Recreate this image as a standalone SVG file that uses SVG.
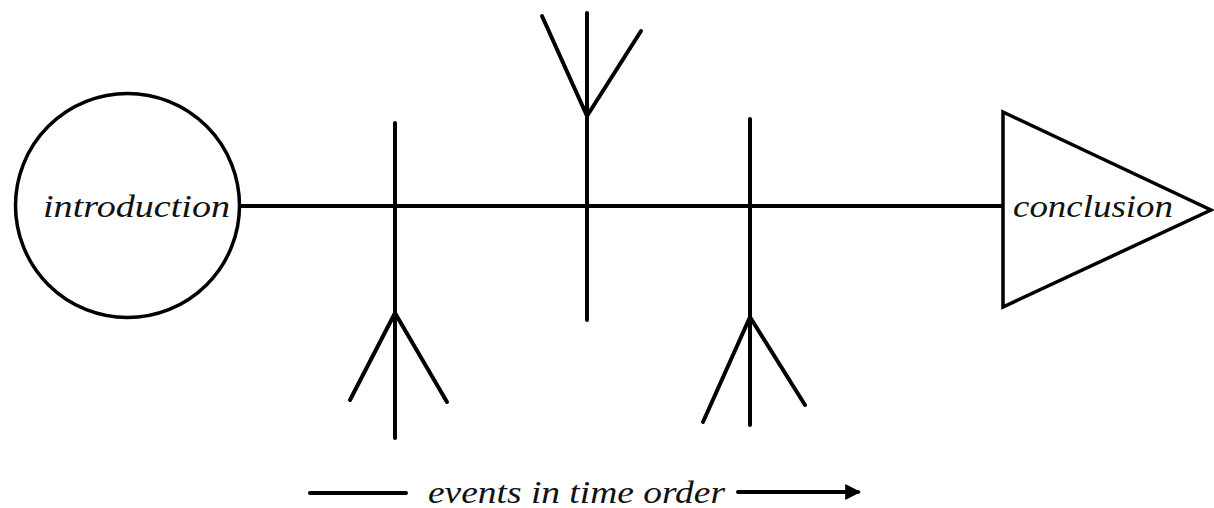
<svg xmlns="http://www.w3.org/2000/svg" width="1214" height="508" viewBox="0 0 1214 508">
  <style>
    .ln { stroke: #000; stroke-width: 4; stroke-linecap: round; stroke-linejoin: round; fill: none; }
    .shape { stroke: #000; stroke-width: 3.5; fill: #fff; stroke-linejoin: miter; }
    .lbl { font-family: "Liberation Serif", "DejaVu Serif", serif; font-style: italic; font-size: 31px; fill: #111; }
  </style>
  <defs>
    <marker id="arrow" viewBox="0 0 10 10" refX="8" refY="5" markerWidth="4" markerHeight="4" orient="auto" markerUnits="strokeWidth">
      <path d="M0,0 L10,5 L0,10 z" fill="#000"/>
    </marker>
  </defs>
  <rect width="1214" height="508" fill="#fff"/>
  <g id="connectors">
    <line class="ln" x1="240" y1="206" x2="1003" y2="206"/>
    <!-- bone 1 -->
    <line class="ln" x1="395" y1="123" x2="395" y2="438"/>
    <line class="ln" x1="395" y1="313" x2="350" y2="400"/>
    <line class="ln" x1="395" y1="313" x2="447" y2="402"/>
    <!-- bone 2 -->
    <line class="ln" x1="587" y1="13" x2="587" y2="320"/>
    <line class="ln" x1="587" y1="116" x2="542" y2="16"/>
    <line class="ln" x1="587" y1="116" x2="641" y2="31"/>
    <!-- bone 3 -->
    <line class="ln" x1="750" y1="119" x2="750" y2="425"/>
    <line class="ln" x1="750" y1="317" x2="703" y2="422"/>
    <line class="ln" x1="750" y1="317" x2="805" y2="405"/>
    <!-- time arrow -->
    <line class="ln" x1="310" y1="493" x2="406" y2="493"/>
    <line class="ln" x1="738" y1="492" x2="858" y2="492" marker-end="url(#arrow)"/>
  </g>
  <g id="introduction">
    <circle class="shape" cx="127.5" cy="205.5" r="112"/>
    <text class="lbl" x="43" y="217" textLength="187" lengthAdjust="spacingAndGlyphs">introduction</text>
  </g>
  <g id="conclusion">
    <polygon class="shape" points="1003,112 1211,210 1003,307"/>
    <text class="lbl" x="1013" y="217" textLength="160" lengthAdjust="spacingAndGlyphs">conclusion</text>
  </g>
  <g id="timeline-label">
    <text class="lbl" x="428" y="503" textLength="297" lengthAdjust="spacingAndGlyphs">events in time order</text>
  </g>
</svg>
